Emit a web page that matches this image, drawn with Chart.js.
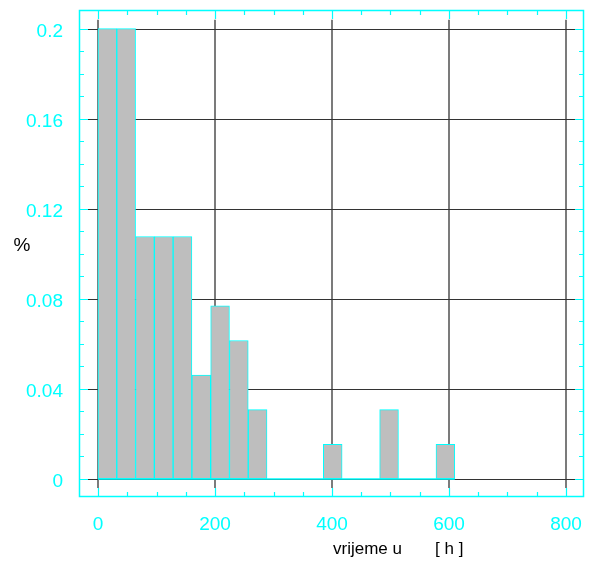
<!DOCTYPE html>
<html><head><meta charset="utf-8">
<script src="https://cdn.jsdelivr.net/npm/chart.js@4"></script>
<style>html,body{margin:0;padding:0;background:#fff}</style>
</head><body>
<canvas id="c" width="589" height="565"></canvas>
<script>
// ---- data ----
const binCenters = [16.05, 48.15, 80.25, 112.35, 144.45, 176.55, 208.65, 240.75, 272.85, 304.95,
                    337.05, 369.15, 401.25, 433.35, 465.45, 497.55, 529.65, 561.75, 593.85];
const binValues  = [0.2, 0.2, 0.1077, 0.1077, 0.1077, 0.0462, 0.0769, 0.0615, 0.0308, 0,
                    0, 0, 0.0154, 0, 0, 0.0308, 0, 0, 0.0154];
const histRange = [0, 609.9];
const xTickValues = [0, 200, 400, 600, 800];
const xTickLabels = ['0', '200', '400', '600', '800'];
const yTickValues = [0, 0.04, 0.08, 0.12, 0.16, 0.2];
const yTickLabels = ['0', '0.04', '0.08', '0.12', '0.16', '0.2'];
const xTitle = 'vrijeme u       [ h ]';
const yTitle = '%';

const CYAN = '#00FFFF';
const FONT = "'Liberation Sans', Arial, Helvetica, sans-serif";

const framePlugin = {
  id: 'frame',
  beforeDatasetsDraw(chart) {
    const { ctx, scales: { x, y } } = chart;
    const y0 = y.getPixelForValue(yTickValues[0]);
    const y1 = y.getPixelForValue(yTickValues[yTickValues.length - 1]);
    const x0 = x.getPixelForValue(xTickValues[0]);
    const x1 = x.getPixelForValue(xTickValues[xTickValues.length - 1]);
    ctx.save();
    ctx.strokeStyle = '#5a5a5a'; ctx.lineWidth = 1.6;
    xTickValues.forEach(v => {
      const px = Math.round(x.getPixelForValue(v));
      ctx.beginPath(); ctx.moveTo(px, y1 - 9); ctx.lineTo(px, y0 + 9); ctx.stroke();
    });
    ctx.strokeStyle = '#333'; ctx.lineWidth = 1.2;
    yTickValues.forEach(v => {
      const py = Math.round(y.getPixelForValue(v)) + 0.5;
      ctx.beginPath(); ctx.moveTo(x0 - 10, py); ctx.lineTo(x1 + 9, py); ctx.stroke();
    });
    ctx.restore();
  },
  afterDatasetsDraw(chart) {
    const { ctx, chartArea: a, scales: { x, y } } = chart;
    ctx.save();
    ctx.strokeStyle = CYAN; ctx.lineWidth = 1.5;
    ctx.strokeRect(a.left + 0.5, a.top + 0.5, a.right - a.left - 1, a.bottom - a.top - 1);
    ctx.lineWidth = 1.2;
    for (let v = 0; v <= 800; v += 50) {
      const px = Math.round(x.getPixelForValue(v)) + 0.5;
      const len = (v % 200 === 0) ? 9 : 5;
      ctx.beginPath();
      ctx.moveTo(px, a.top); ctx.lineTo(px, a.top + len);
      ctx.moveTo(px, a.bottom); ctx.lineTo(px, a.bottom - len);
      ctx.stroke();
    }
    for (let i = 0; i <= 20; i++) {
      const v = i / 100;
      const py = Math.round(y.getPixelForValue(v)) + 0.5;
      const len = (i % 4 === 0) ? 9 : 5;
      ctx.beginPath();
      ctx.moveTo(a.left, py); ctx.lineTo(a.left + len, py);
      ctx.moveTo(a.right, py); ctx.lineTo(a.right - len, py);
      ctx.stroke();
    }
    ctx.fillStyle = '#000';
    ctx.font = '19px ' + FONT;
    ctx.textAlign = 'center'; ctx.textBaseline = 'middle';
    ctx.fillText(yTitle, 22, 246);
    ctx.font = '17px ' + FONT;
    ctx.textAlign = 'left'; ctx.textBaseline = 'alphabetic';
    ctx.fillText(xTitle, 333, 554);
    ctx.restore();
  }
};

new Chart(document.getElementById('c'), {
  type: 'bar',
  data: {
    datasets: [
      {
        type: 'line',
        data: histRange.map(v => ({ x: v, y: 0 })),
        borderColor: CYAN, borderWidth: 1.5, pointRadius: 0, fill: false
      },
      {
        type: 'bar',
        data: binCenters.map((c, i) => ({ x: c, y: binValues[i] })),
        backgroundColor: '#BEBEBE',
        borderColor: CYAN,
        borderWidth: 1,
        borderSkipped: false,
        categoryPercentage: 1.0,
        barPercentage: 1.0
      }
    ]
  },
  options: {
    responsive: false,
    animation: false,
    devicePixelRatio: 1,
    layout: { padding: { top: 10, right: 5, left: 0, bottom: 0 } },
    plugins: { legend: { display: false }, tooltip: { enabled: false } },
    scales: {
      x: {
        type: 'linear', min: -32.5, max: 830.8, offset: false,
        grid: { display: false, offset: false }, border: { display: false },
        afterBuildTicks: s => { s.ticks = xTickValues.map(v => ({ value: v })); },
        afterFit: s => { s.height = 68; s.paddingLeft = 0; s.paddingRight = 0; },
        ticks: {
          color: CYAN, font: { family: FONT, size: 19 }, padding: 8,
          autoSkip: false, maxRotation: 0,
          callback: v => xTickLabels[xTickValues.indexOf(v)]
        }
      },
      y: {
        type: 'linear', min: -0.008, max: 0.2083,
        grid: { display: false }, border: { display: false },
        afterBuildTicks: s => { s.ticks = yTickValues.map(v => ({ value: v })); },
        afterFit: s => { s.width = 79; s.paddingTop = 0; s.paddingBottom = 0; },
        ticks: {
          color: CYAN, font: { family: FONT, size: 19 }, padding: 8, labelOffset: 3,
          autoSkip: false,
          callback: v => { const i = yTickValues.findIndex(t => Math.abs(t - v) < 1e-9); return i >= 0 ? yTickLabels[i] : ''; }
        }
      }
    }
  },
  plugins: [framePlugin]
});
</script>
</body></html>
